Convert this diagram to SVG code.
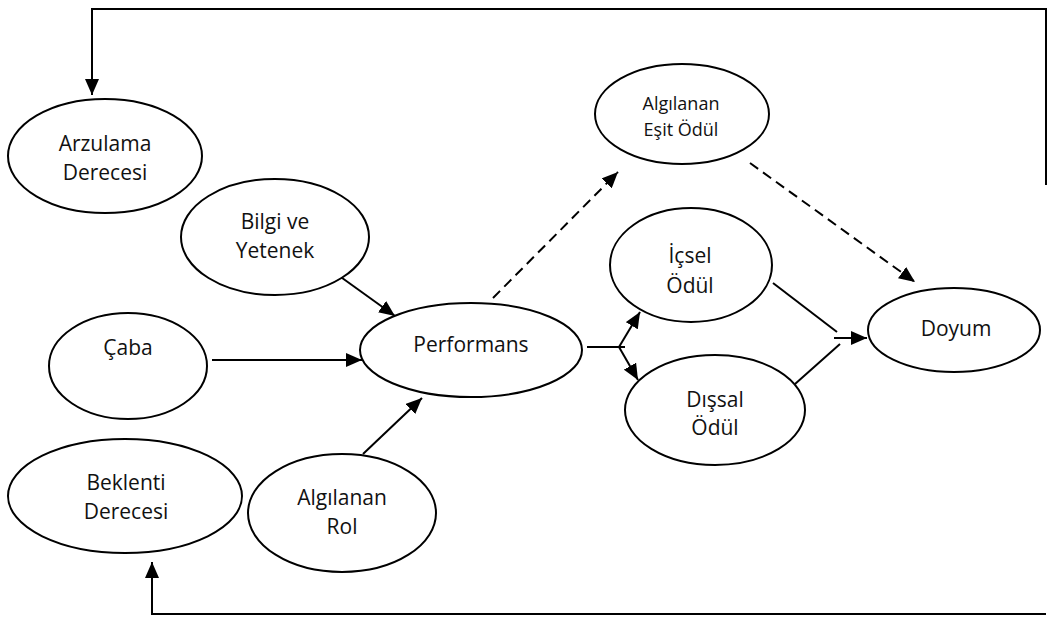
<svg xmlns="http://www.w3.org/2000/svg" width="1048" height="617" viewBox="0 0 1048 617">
<style>
.n{fill:#fff;stroke:#000;stroke-width:2}
.t{font-family:"Open Sans","Liberation Sans",sans-serif;font-size:21px;fill:#111;text-anchor:middle}
.s{font-size:18px}
.c{fill:none;stroke:#000;stroke-width:2}
.d{fill:none;stroke:#000;stroke-width:2;stroke-dasharray:10,6}
</style>
<defs>
<marker id="a" markerUnits="userSpaceOnUse" markerWidth="16" markerHeight="14" refX="16" refY="7" orient="auto">
<path d="M0,0 L16,7 L0,14 Z" fill="#000"/>
</marker>
</defs>
<rect width="1048" height="617" fill="#fff"/>
<g id="connectors">
<path class="c" d="M1046,185 L1046,9 L92,9 L92,95" marker-end="url(#a)"/>
<path class="c" d="M1046,614 L152,614 L152,562" marker-end="url(#a)"/>
<path class="c" d="M212,360 L362,360" marker-end="url(#a)"/>
<path class="c" d="M338,275 L395,316" marker-end="url(#a)"/>
<path class="c" d="M363,454 L422,398" marker-end="url(#a)"/>
<path class="d" d="M493,298 L618,172" marker-end="url(#a)"/>
<path class="d" d="M750,163 L915,282" marker-end="url(#a)"/>
<path class="c" d="M587,347 L625,347"/>
<path class="c" d="M619,347 L640,312" marker-end="url(#a)"/>
<path class="c" d="M619,347 L638,380" marker-end="url(#a)"/>
<path class="c" d="M773,283 L837,332"/>
<path class="c" d="M795,384 L840,344"/>
<path class="c" d="M834,338 L867,338" marker-end="url(#a)"/>
</g>
<g id="arzulama"><ellipse class="n" cx="105" cy="156" rx="97" ry="57"/><text class="t" x="105" y="151">Arzulama</text><text class="t" x="105" y="180">Derecesi</text></g>
<g id="bilgi"><ellipse class="n" cx="275" cy="237" rx="94" ry="58"/><text class="t" x="275" y="229">Bilgi ve</text><text class="t" x="275" y="258">Yetenek</text></g>
<g id="caba"><ellipse class="n" cx="128" cy="366" rx="79" ry="53"/><text class="t" x="128" y="355">Çaba</text></g>
<g id="performans"><ellipse class="n" cx="471" cy="350" rx="111" ry="47"/><text class="t" x="471" y="352">Performans</text></g>
<g id="beklenti"><ellipse class="n" cx="125" cy="496" rx="117" ry="57"/><text class="t" x="126" y="490">Beklenti</text><text class="t" x="126" y="519">Derecesi</text></g>
<g id="rol"><ellipse class="n" cx="342" cy="513" rx="94" ry="59"/><text class="t" x="342" y="505">Algılanan</text><text class="t" x="342" y="534">Rol</text></g>
<g id="esit"><ellipse class="n" cx="682" cy="114" rx="87" ry="50"/><text class="t s" x="681" y="110">Algılanan</text><text class="t s" x="681" y="136">Eşit Ödül</text></g>
<g id="icsel"><ellipse class="n" cx="691" cy="265" rx="81" ry="57"/><text class="t" x="690" y="263">İçsel</text><text class="t" x="690" y="293">Ödül</text></g>
<g id="dissal"><ellipse class="n" cx="715" cy="410" rx="90" ry="55"/><text class="t" x="715" y="407">Dışsal</text><text class="t" x="715" y="435">Ödül</text></g>
<g id="doyum"><ellipse class="n" cx="954" cy="330" rx="86" ry="42"/><text class="t" x="956" y="336">Doyum</text></g>
</svg>
